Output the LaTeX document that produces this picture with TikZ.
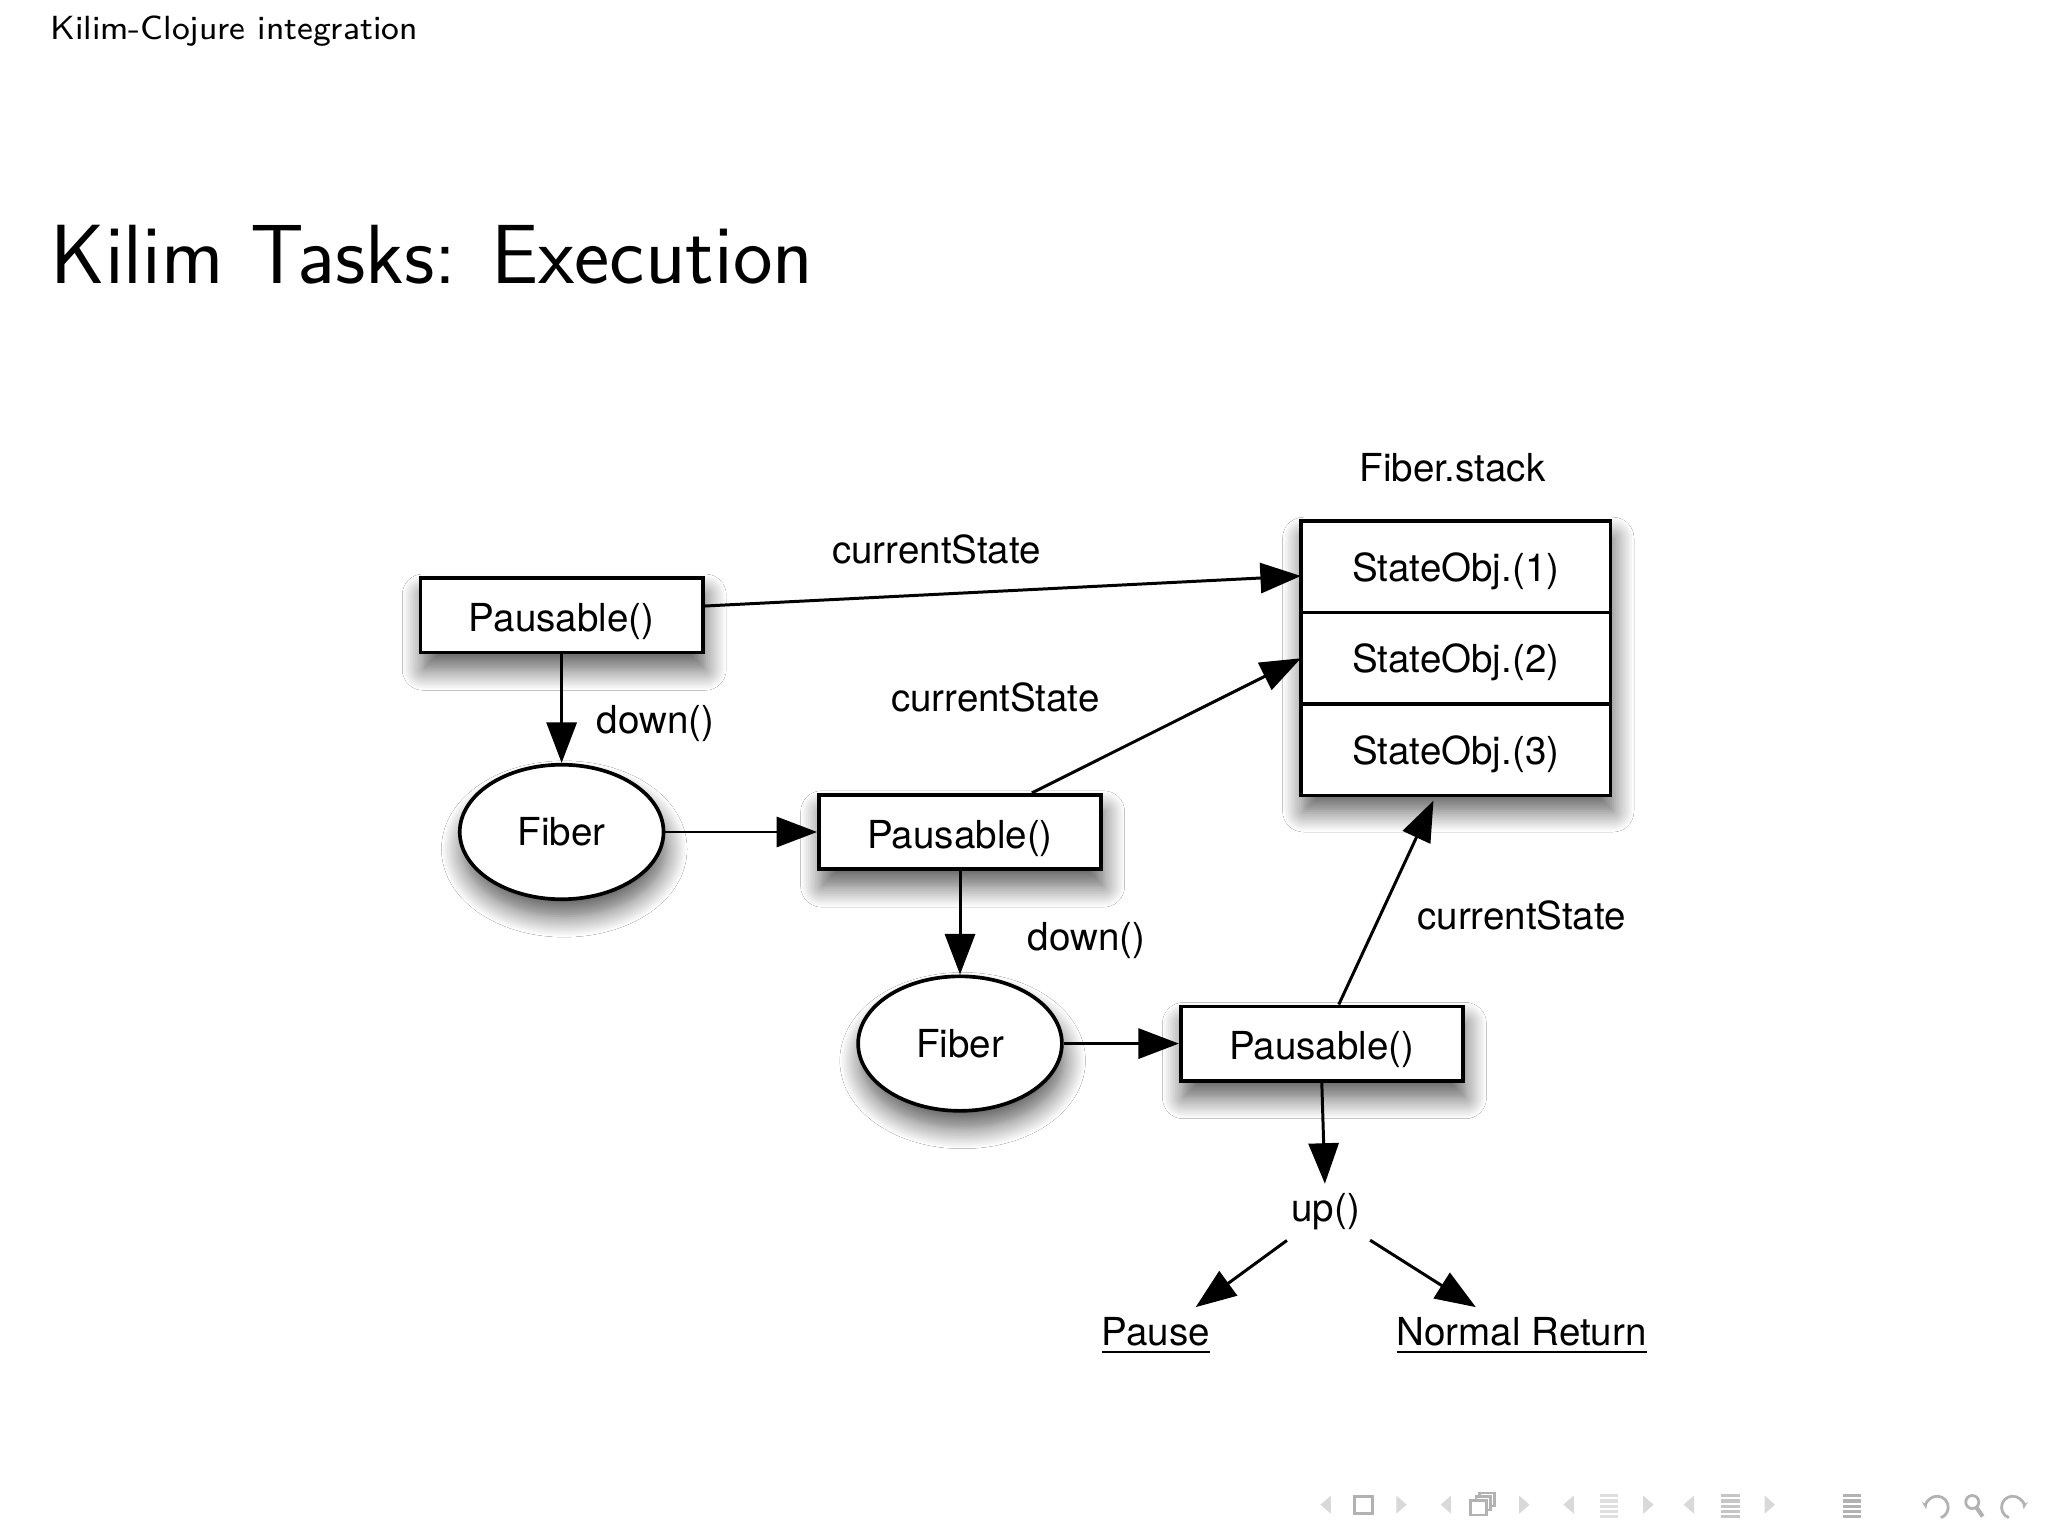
\documentclass[tikz,border=0pt]{standalone}
\usepackage{fontspec}
\newfontfamily\helv{TeX Gyre Heros}
\newcommand{\diagtext}{\helv\fontsize{8.4}{10}\selectfont}
\usetikzlibrary{arrows.meta,positioning,shapes.geometric,shadows.blur}

\begin{document}
\begin{tikzpicture}[
    softshadow/.style={blur shadow={shadow xshift=0.02cm, shadow yshift=-0.13cm, shadow blur radius=0.16cm, shadow blur steps=12, shadow opacity=65}},
    pbox/.style={draw, line width=0.8pt, fill=white, minimum width=2.16cm, minimum height=0.57cm, inner sep=0pt, text height=0.25cm, text depth=0pt, font=\diagtext, softshadow},
    fiber/.style={ellipse, draw, line width=0.8pt, fill=white, minimum width=1.56cm, minimum height=1.03cm, inner sep=0pt, font=\diagtext, softshadow},
    cell/.style={draw, line width=0.8pt, fill=white, minimum width=2.37cm, minimum height=0.70cm, inner sep=0pt, outer sep=0pt, text depth=0pt, font=\diagtext},
    lbl/.style={font=\diagtext, inner sep=2pt},
    arr/.style={-{Triangle[length=0.31cm,width=0.23cm]}, line width=0.65pt},
    navtri/.style={fill=gray!30, draw=none},
    navline/.style={gray!60, line width=0.6pt}
  ]
  \useasboundingbox (0,0) rectangle (15.68,-11.76);
  \fill[white] (0,0) rectangle (15.68,-11.76);

  % slide header and title
  \node[anchor=base west, inner sep=0pt, font=\sffamily\fontsize{7.3}{9}\selectfont] (hdr) at (0.38,-0.30) {Kilim-Clojure integration};
  \node[anchor=base west, inner sep=0pt, font=\sffamily\fontsize{18.3}{22}\selectfont] (ttl) at (0.38,-2.17) {Kilim Tasks: Execution};

  % the stack of states
  \node[draw, line width=0.8pt, fill=white, outer sep=0pt, minimum width=2.37cm, minimum height=2.09cm, softshadow] (stack) at (11.145,-5.035) {};
  \node[cell, anchor=north] (s1) at (stack.north) {StateObj.(1)};
  \node[cell, below=0pt of s1] (s2) {StateObj.(2)};
  \node[cell, below=0pt of s2] (s3) {StateObj.(3)};
  \node[lbl] (fs) at (11.12,-3.58) {Fiber.stack};

  % pausables and fibers
  \node[pbox] (pa) at (4.30,-4.71) {Pausable()};
  \node[fiber] (fa) at (4.30,-6.37) {Fiber};
  \node[pbox] (pb) at (7.35,-6.37) {Pausable()};
  \node[fiber] (fb) at (7.35,-7.99) {Fiber};
  \node[pbox] (pc) at (10.12,-7.99) {Pausable()};

  % labels
  \node[lbl] (csa) at (7.17,-4.21) {currentState};
  \node[lbl] (csb) at (7.62,-5.34) {currentState};
  \node[lbl] (csc) at (11.65,-7.01) {currentState};
  \node[lbl] (dna) at (5.02,-5.54) {down()};
  \node[lbl] (dnb) at (8.32,-7.20) {down()};
  \node[lbl] (up) at (10.15,-9.28) {up()};
  \node[lbl] (ps) at (8.85,-10.23) {\underline{Pause}};
  \node[lbl] (nr) at (11.65,-10.23) {\underline{Normal Return}};

  % connectors
  \draw[arr] ([yshift=0.07cm]pa.east) -- ([yshift=-0.07cm]s1.west);
  \draw[arr] (pa.south) -- (fa.north);
  \draw[arr] (fa) -- (pb);
  \draw[arr] ([xshift=0.55cm]pb.north) -- (s2.west);
  \draw[arr] (pb.south) -- (fb.north);
  \draw[arr] (fb) -- (pc);
  \draw[arr] ([xshift=0.13cm]pc.north) -- ([xshift=-0.17cm,yshift=-0.04cm]s3.south);
  \draw[arr] (pc.south) -- (up);
  \draw[arr] (up) -- (ps);
  \draw[arr] (up) -- (nr);

  % navigation symbols
  \foreach \x in {10.15,11.07,12.01,12.93}
    \fill[navtri] (\x+0.04,-11.45) -- (\x-0.04,-11.52) -- (\x+0.04,-11.59) -- cycle;
  \foreach \x in {10.73,11.67,12.62,13.55}
    \fill[navtri] (\x-0.04,-11.45) -- (\x+0.04,-11.52) -- (\x-0.04,-11.59) -- cycle;
  \draw[navline] (10.37,-11.46) rectangle (10.51,-11.59);
  \draw[navline, fill=white] (11.33,-11.43) rectangle (11.44,-11.53);
  \draw[navline, fill=white] (11.30,-11.46) rectangle (11.41,-11.56);
  \draw[navline, fill=white] (11.26,-11.49) rectangle (11.38,-11.60);
  \foreach \x/\c in {12.32/25,13.25/45,14.18/60}
    \foreach \y in {-11.44,-11.48,-11.52,-11.56,-11.60}
      \fill[gray!\c] (\x-0.07,\y) rectangle (\x+0.07,\y-0.025);
  \draw[navline, -{Stealth[length=0.06cm]}] (14.86,-11.62) arc (-70:190:0.085);
  \draw[navline] (15.10,-11.50) circle (0.05);
  \draw[navline, line width=0.9pt] (15.13,-11.54) -- (15.18,-11.61);
  \draw[navline, -{Stealth[length=0.06cm]}] (15.38,-11.62) arc (250:-10:0.085);
\end{tikzpicture}
\end{document}
